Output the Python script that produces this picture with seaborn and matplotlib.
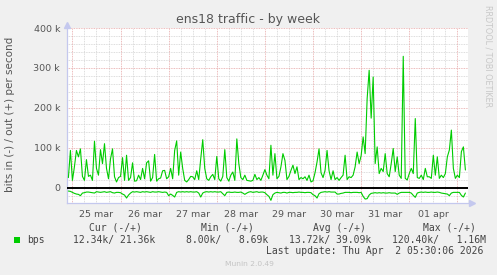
import numpy as np
import pandas as pd
import matplotlib
matplotlib.use("Agg")
import matplotlib.pyplot as plt
import seaborn as sns
from matplotlib.patches import Rectangle

# hours after 25 Mar 00:00 (one sample per hour)
HOURS = list(range(-2, 197))

# out (+) traffic, k bits per second
OUT_K = [
    25, 93, 18, 52, 93, 77, 97, 28, 18, 70,
    28, 31, 18, 116, 48, 31, 95, 60, 110, 48,
    22, 72, 97, 27, 14, 25, 28, 75, 18, 81,
    18, 25, 62, 16, 17, 31, 20, 48, 22, 62,
    67, 16, 25, 83, 16, 22, 24, 42, 43, 22,
    27, 48, 22, 93, 117, 31, 89, 48, 18, 14,
    20, 28, 27, 20, 42, 20, 72, 120, 48, 22,
    18, 27, 33, 20, 78, 22, 16, 28, 95, 25,
    16, 31, 39, 18, 122, 60, 25, 20, 31, 18,
    17, 16, 18, 33, 20, 25, 18, 31, 45, 31,
    22, 106, 31, 85, 22, 28, 52, 85, 68, 20,
    28, 43, 56, 35, 52, 20, 25, 22, 27, 18,
    31, 14, 17, 37, 64, 97, 37, 25, 43, 93,
    42, 20, 42, 20, 25, 18, 25, 31, 81, 20,
    27, 25, 31, 52, 89, 60, 80, 127, 85, 223,
    294, 174, 277, 60, 102, 35, 48, 40, 85, 35,
    27, 60, 98, 40, 77, 31, 23, 329, 23, 19,
    35, 48, 35, 173, 25, 23, 31, 20, 48, 27,
    27, 23, 81, 31, 77, 23, 31, 25, 35, 77,
    94, 144, 48, 23, 31, 25, 90, 102, 44,
]

# in (-) traffic, k bits per second (drawn below zero)
IN_K = [
    8.8, 9.6, 12.1, 14.6, 16.3, 17.1, 20.4, 13.8, 12.9, 11.3,
    11.3, 12.1, 12.9, 13.8, 10.4, 11.3, 12.1, 11.3, 10.4, 12.1,
    11.3, 10.4, 12.9, 13.8, 12.1, 12.1, 12.9, 16.3, 18.8, 26.3,
    18.8, 13.8, 10.4, 11.3, 10.4, 11.3, 12.1, 10.4, 11.3, 10.4,
    11.3, 12.1, 10.4, 11.3, 11.3, 10.4, 11.3, 12.1, 11.3, 12.1,
    20.4, 16.3, 19.6, 23.8, 12.1, 10.4, 11.3, 10.4, 11.3, 10.4,
    11.3, 10.4, 11.3, 11.3, 10.4, 13.8, 23.8, 13.8, 11.3, 10.4,
    11.3, 10.4, 11.3, 10.4, 11.3, 11.3, 10.4, 15.4, 20.4, 12.1,
    11.3, 12.1, 12.1, 11.3, 12.1, 12.1, 11.3, 13.8, 17.1, 13.8,
    11.3, 10.4, 12.1, 11.3, 10.4, 12.1, 11.3, 11.3, 12.9, 17.9,
    22.1, 32.1, 17.9, 13.8, 12.1, 12.9, 13.8, 12.1, 12.1, 13.8,
    12.1, 12.1, 12.9, 12.1, 12.1, 11.3, 12.1, 12.1, 12.9, 12.1,
    12.1, 12.9, 17.9, 20.4, 26.3, 15.4, 12.1, 11.3, 10.4, 11.3,
    10.4, 11.3, 11.3, 11.3, 16.3, 16.3, 14.6, 13.8, 12.1, 12.1,
    12.1, 12.9, 12.1, 12.1, 12.1, 12.9, 12.1, 22.1, 28.8, 27.9,
    18.8, 14.6, 13.8, 12.9, 13.8, 12.9, 13.8, 12.9, 13.8, 13.8,
    12.9, 13.8, 13.8, 13.8, 17.1, 13.8, 12.1, 12.1, 12.1, 12.1,
    12.1, 13.8, 19.6, 24.6, 13.8, 12.1, 11.3, 12.1, 11.3, 12.1,
    12.1, 11.3, 12.1, 12.1, 11.3, 12.1, 13.8, 14.6, 15.4, 16.3,
    20.4, 13.8, 12.1, 12.1, 12.1, 12.1, 19.6, 23.8, 13.8,
]

DAY_LABELS = ["25 mar", "26 mar", "27 mar", "28 mar", "29 mar", "30 mar", "31 mar", "01 apr"]
Y_TICKS = [0, 100000, 200000, 300000, 400000]
Y_TICK_LABELS = ["0", "100 k", "200 k", "300 k", "400 k"]
TITLE = "ens18 traffic - by week"
Y_LABEL = "bits in (-) / out (+) per second"
SERIES_NAME = "bps"
HEADERS = ["Cur (-/+)", "Min (-/+)", "Avg (-/+)", "Max (-/+)"]
VALUES = ["12.34k/ 21.36k", "8.00k/   8.69k", "13.72k/ 39.09k", "120.40k/   1.16M"]
LAST_UPDATE = "Last update: Thu Apr  2 05:30:06 2026"
FOOTER = "Munin 2.0.49"
WATERMARK = "RRDTOOL / TOBI OETIKER"

sns.set_style("white")
plt.rcParams['font.family'] = ['DejaVu Sans']

df = pd.DataFrame({
    "hour": HOURS,
    "out": np.array(OUT_K) * 1000.0,
    "in": -np.array(IN_K) * 1000.0,
})

W, H = 497, 275
fig = plt.figure(figsize=(W / 100, H / 100), dpi=100, facecolor="#f0f0f0")
ax = fig.add_axes([67 / W, 1 - 203 / H, 401 / W, 175 / H])
ax.set_facecolor("white")

XMIN, XMAX = -2.7, 197.3
YMIN, YMAX = -38750, 400000
ax.set_xlim(XMIN, XMAX)
ax.set_ylim(YMIN, YMAX)

GREEN = "#00cc00"
RED_GRID = "#e6a4a4"
GRAY_GRID = "#d2d2d2"
TXT = "#555555"
dot = (0, (1, 1))

# minor grid
for yv in range(-20000, 400001, 20000):
    if yv % 100000 != 0:
        ax.axhline(yv, color=GRAY_GRID, lw=0.6, ls=dot, zorder=1)
for xv in range(0, 198, 6):
    if xv % 24 != 0:
        ax.axvline(xv, color=GRAY_GRID, lw=0.6, ls=dot, zorder=1)
# major grid
for yv in Y_TICKS[1:]:
    ax.axhline(yv, color=RED_GRID, lw=0.6, ls=dot, zorder=1)
for d in range(0, 9):
    ax.axvline(24 * d, color=RED_GRID, lw=0.6, ls=dot, zorder=1)

ax.axhline(0, color="black", lw=1.4, zorder=3)

sns.lineplot(data=df, x="hour", y="out", color=GREEN, lw=0.8, ax=ax, zorder=4, legend=False)
sns.lineplot(data=df, x="hour", y="in", color=GREEN, lw=0.8, ax=ax, zorder=4, legend=False)

ax.set_xlabel("")
ax.set_ylabel("")
ax.set_xticks([12 + 24 * i for i in range(len(DAY_LABELS))])
ax.set_xticklabels(DAY_LABELS)
ax.set_xticks(list(range(0, 198, 6)), minor=True)
ax.set_yticks(Y_TICKS)
ax.set_yticklabels(Y_TICK_LABELS)
ax.tick_params(axis="x", which="major", length=0, pad=5, labelsize=6.8, labelcolor=TXT)
ax.tick_params(axis="x", which="minor", length=2, width=0.6, color="#e0c0c0")
ax.tick_params(axis="y", length=2, width=0.6, color=RED_GRID, pad=3, labelsize=6.8, labelcolor=TXT)

AXC = "#c4c8ee"
for s in ["top", "right"]:
    ax.spines[s].set_visible(False)
for s in ["left", "bottom"]:
    ax.spines[s].set_color(AXC)
    ax.spines[s].set_linewidth(0.9)
ax.plot([0], [1.02], marker="^", ms=4, color=AXC, transform=ax.transAxes, clip_on=False)
ax.plot([1.01], [0], marker=">", ms=4, color=AXC, transform=ax.transAxes, clip_on=False)

fig.text(0.5, 1 - 19 / H, TITLE, ha="center", va="center", fontsize=9, color=TXT)
fig.text(10 / W, 1 - 114.5 / H, Y_LABEL, rotation=90, ha="center", va="center",
         fontsize=7.5, color=TXT)
fig.text(488 / W, 1 - 56 / H, WATERMARK, rotation=270, ha="center", va="center",
         fontsize=5.8, color="#c8c8c8")

mono = dict(family="DejaVu Sans Mono", fontsize=7, color="#444444", va="center")
for x, t in zip([89, 201, 312.7, 423], HEADERS):
    fig.text(x / W, 1 - 227.7 / H, t, ha="left", **mono)
fig.patches.append(Rectangle((14 / W, 1 - 243 / H), 6 / W, 6 / H, transform=fig.transFigure,
                             facecolor=GREEN, edgecolor="none"))
fig.text(26.7 / W, 1 - 240 / H, SERIES_NAME, ha="left", **mono)
for x, t in zip([72.7, 186, 289, 392], VALUES):
    fig.text(x / W, 1 - 240 / H, t, ha="left", **mono)
fig.text(483 / W, 1 - 251.5 / H, LAST_UPDATE, ha="right", **mono)
fig.text(249 / W, 1 - 264 / H, FOOTER, ha="center", va="center", fontsize=5.4, color="#c4c4c4")

fig.savefig("out.png", dpi=100, facecolor=fig.get_facecolor())
